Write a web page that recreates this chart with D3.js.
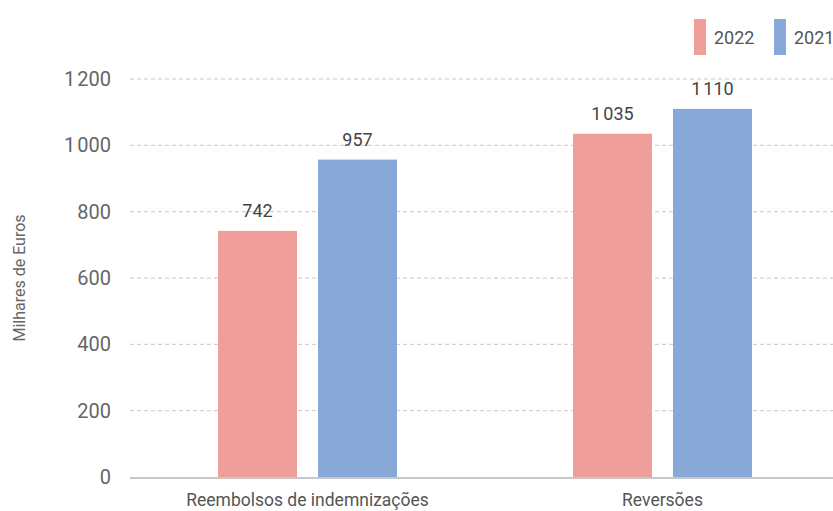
<!DOCTYPE html>
<html>
<head>
<meta charset="utf-8">
<script src="https://cdn.jsdelivr.net/npm/d3@7"></script>
<style>
  body { margin: 0; background: #fff; }
  text { font-family: Roboto, "Open Sans", sans-serif; }
</style>
</head>
<body>
<div id="chart"></div>
<script>
const categories = ["Reembolsos de indemnizações", "Reversões"]
const years = ["2022", "2021"]
const values2022 = [742, 1035]
const values2021 = [957, 1110]
const yTicks = [0, 200, 400, 600, 800, 1000, 1200]
const colors = ["#ef9e99", "#87a8d8"]

const width = 833
const height = 511
const margin = { top: 79, right: -7, bottom: 34, left: 130 }

const svg = d3.select("#chart").append("svg")
  .attr("width", width)
  .attr("height", height)

const fmt = n => d3.format(",")(n).replace(",", "\u200a")

const y = d3.scaleLinear()
  .domain([0, 1200])
  .range([height - margin.bottom, margin.top])

const x = d3.scaleBand()
  .domain(categories)
  .range([margin.left, width - margin.right])

const x1 = d3.scaleBand()
  .domain(years)
  .range([x.bandwidth() / 2 - 89.5, x.bandwidth() / 2 + 89.5])
  .paddingInner(0.21)

// grid
svg.append("g")
  .selectAll("line")
  .data(yTicks.filter(d => d > 0))
  .join("line")
  .attr("x1", margin.left)
  .attr("x2", width)
  .attr("y1", d => y(d))
  .attr("y2", d => y(d))
  .attr("stroke", "#c8c8c8")
  .attr("stroke-dasharray", "4,3")

// y labels
svg.append("g")
  .selectAll("text")
  .data(yTicks)
  .join("text")
  .attr("x", 111)
  .attr("y", d => y(d))
  .attr("dy", "0.35em")
  .attr("text-anchor", "end")
  .attr("fill", "#666")
  .style("font-size", "20px")
  .text(d => fmt(d))

svg.append("text")
  .attr("transform", `translate(25,${(y(0) + y(1200)) / 2}) rotate(-90)`)
  .attr("text-anchor", "middle")
  .attr("fill", "#666")
  .style("font-size", "16px")
  .text("Milhares de Euros")

const rows = categories.map((c, i) => ({ cat: c, vals: [values2022[i], values2021[i]] }))

const groups = svg.append("g")
  .selectAll("g")
  .data(rows)
  .join("g")
  .attr("transform", d => `translate(${x(d.cat)},0)`)

groups.selectAll("rect")
  .data(d => d.vals.map((v, j) => ({ year: years[j], v: v, j: j })))
  .join("rect")
  .attr("x", d => x1(d.year))
  .attr("width", x1.bandwidth())
  .attr("y", d => y(d.v))
  .attr("height", d => y(0) - y(d.v))
  .attr("fill", d => colors[d.j])

groups.selectAll("text")
  .data(d => d.vals.map((v, j) => ({ year: years[j], v: v })))
  .join("text")
  .attr("x", d => x1(d.year) + x1.bandwidth() / 2)
  .attr("y", d => y(d.v) - 14)
  .attr("text-anchor", "middle")
  .attr("fill", "#444")
  .style("font-size", "18px")
  .text(d => fmt(d.v))

// baseline
svg.append("line")
  .attr("x1", margin.left)
  .attr("x2", width)
  .attr("y1", y(0) + 1)
  .attr("y2", y(0) + 1)
  .attr("stroke", "#c8c8c8")
  .attr("stroke-width", 2)

// category labels
svg.append("g")
  .selectAll("text")
  .data(categories)
  .join("text")
  .attr("x", d => x(d) + x.bandwidth() / 2)
  .attr("y", 506)
  .attr("text-anchor", "middle")
  .attr("fill", "#555")
  .style("font-size", "17.5px")
  .text(d => d)

// legend
const legend = svg.append("g")
  .selectAll("g")
  .data(years)
  .join("g")
  .attr("transform", (d, i) => `translate(${694 + i * 80},19)`)

legend.append("rect")
  .attr("width", 12)
  .attr("height", 36)
  .attr("fill", (d, i) => colors[i])

legend.append("text")
  .attr("x", 20)
  .attr("y", 25)
  .attr("fill", "#555")
  .style("font-size", "18px")
  .text(d => d)
</script>
</body>
</html>
